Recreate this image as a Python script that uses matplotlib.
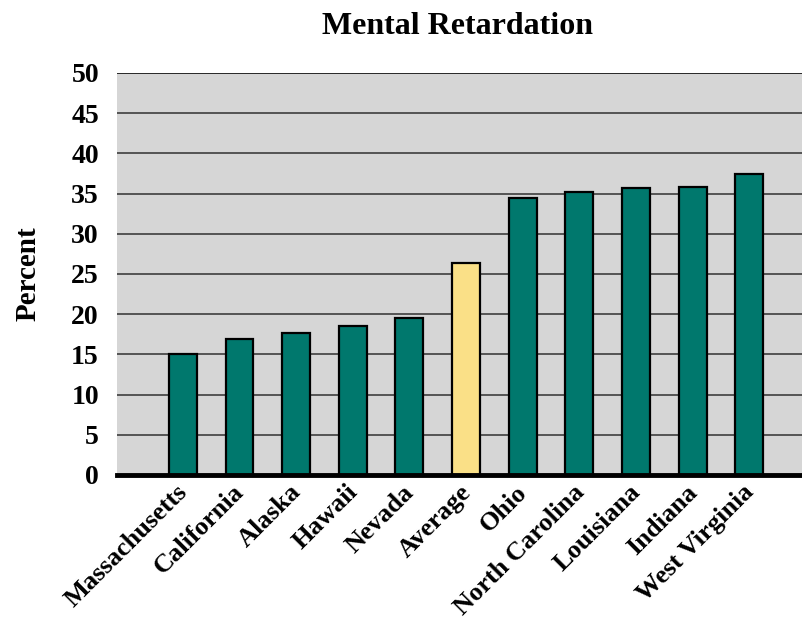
import matplotlib
matplotlib.use("Agg")
import matplotlib.pyplot as plt
from matplotlib.transforms import ScaledTranslation

# Data
states = ["Massachusetts", "California", "Alaska", "Hawaii", "Nevada", "Average",
          "Ohio", "North Carolina", "Louisiana", "Indiana", "West Virginia"]
percent = [15.0, 16.9, 17.7, 18.5, 19.5, 26.4, 34.5, 35.2, 35.7, 35.8, 37.4]
yticks = [0, 5, 10, 15, 20, 25, 30, 35, 40, 45, 50]

teal = "#00786D"
gold = "#FAE087"
colors = [gold if s == "Average" else teal for s in states]

plt.rcParams["font.family"] = ["Liberation Serif", "DejaVu Serif"]
plt.rcParams["font.weight"] = "bold"

fig = plt.figure(figsize=(8.02, 6.21), dpi=100)
ax = fig.add_axes([117 / 802, 1 - 475 / 621, 1 - 117 / 802, (475 - 73) / 621])
ax.set_facecolor("#D6D6D6")

x = list(range(len(states)))
ax.bar(x, percent, width=0.49, color=colors, edgecolor="black", linewidth=1.6, zorder=3)

ax.set_ylim(0, 50)
ax.set_xlim(-1.16, 10.93)
ax.set_yticks(yticks)
ax.set_yticklabels([str(t) for t in yticks], fontsize=20, fontweight="bold")
ax.tick_params(axis="y", length=0, pad=13)
ax.tick_params(axis="x", length=0, pad=4)

for t in yticks[1:]:
    ax.axhline(t, color="#4a4a4a" if t < 50 else "#1a1a1a", linewidth=1.3, zorder=1)
ax.axhline(0, color="black", linewidth=3.5, zorder=4, clip_on=False)

for sp in ax.spines.values():
    sp.set_visible(False)

ax.set_xticks(x)
ax.set_xticklabels(states, rotation=45, ha="right", va="top", rotation_mode="anchor",
                   fontsize=19, fontweight="bold")
shift = ScaledTranslation(-7 / 100, 0, fig.dpi_scale_trans)
for lbl in ax.get_xticklabels():
    lbl.set_transform(lbl.get_transform() + shift)

ax.set_ylabel("Percent", fontsize=21, fontweight="bold", labelpad=21)
fig.text(457 / 802, 1 - 26 / 621, "Mental Retardation", ha="center", va="center",
         fontsize=23, fontweight="bold")

fig.savefig("out.png", dpi=100)
